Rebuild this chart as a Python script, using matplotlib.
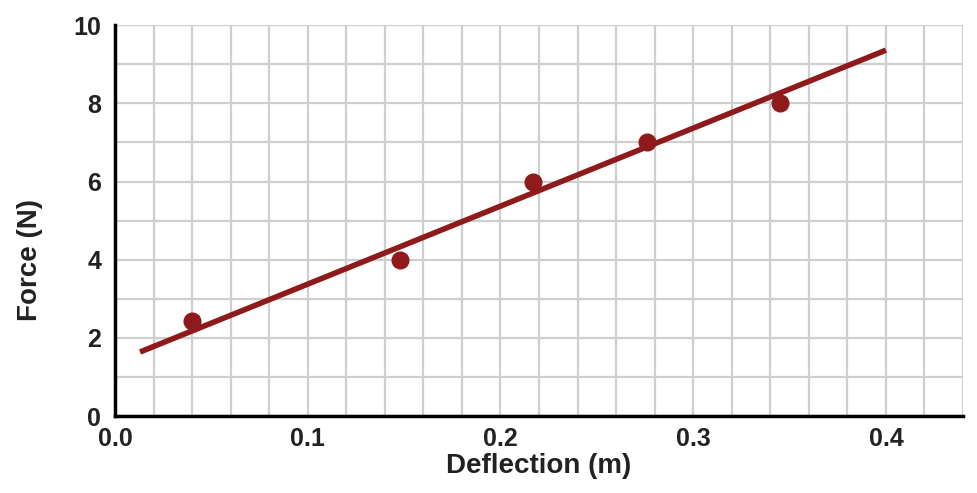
import numpy as np
import matplotlib.pyplot as plt
from matplotlib.ticker import MultipleLocator

plt.rcParams['font.family'] = ['Liberation Sans', 'DejaVu Sans']

# measured points
deflection = [0.040, 0.148, 0.217, 0.276, 0.345]
force = [2.43, 4.0, 6.0, 7.0, 8.0]

# best fit line ends
fit_x = [0.013, 0.400]
fit_y = [1.64, 9.36]

red = '#8e1a1c'

fig = plt.figure(figsize=(9.77, 4.93), dpi=100)
ax = fig.add_axes([0.1177, 0.156, 0.868, 0.793])

ax.plot(fit_x, fit_y, color=red, lw=4, solid_capstyle='butt', zorder=3)
ax.plot(deflection, force, 'o', color=red, ms=12, zorder=4)

ax.set_xlim(0, 0.44)
ax.set_ylim(0, 10)
ax.xaxis.set_minor_locator(MultipleLocator(0.02))
ax.yaxis.set_major_locator(MultipleLocator(2))
ax.yaxis.set_minor_locator(MultipleLocator(1))
ax.set_xticks([0.0, 0.1, 0.2, 0.3, 0.4])
ax.set_xticklabels(['0.0', '0.1', '0.2', '0.3', '0.4'])
ax.grid(which='both', color='#cfcfcf', lw=1.6)
ax.set_axisbelow(True)

ax.tick_params(which='both', length=0, labelsize=18)
ax.tick_params(axis='x', pad=8)
ax.tick_params(axis='y', pad=10)
for lab in ax.get_xticklabels() + ax.get_yticklabels():
    lab.set_fontweight('bold')
    lab.set_color('#222222')

for s in ['top', 'right']:
    ax.spines[s].set_visible(False)
for s in ['left', 'bottom']:
    ax.spines[s].set_linewidth(2.5)
    ax.spines[s].set_color('black')

ax.set_xlabel('Deflection (m)', fontsize=20, fontweight='bold', color='#222222', labelpad=1)
ax.set_ylabel('Force (N)', fontsize=20, fontweight='bold', color='#222222')
ax.yaxis.set_label_coords(-0.085, 0.40)

fig.savefig('out.png', dpi=100)
